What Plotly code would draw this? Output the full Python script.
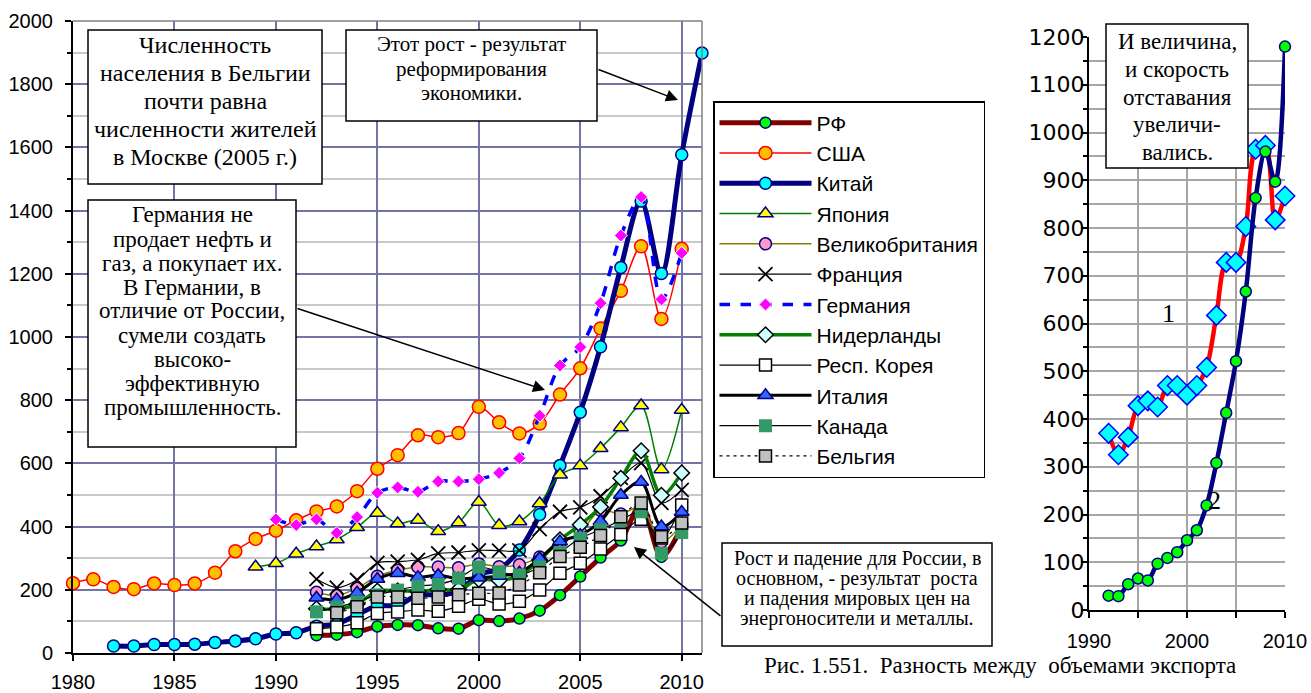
import plotly.graph_objects as go

# ---------------- data (left chart, bn USD export) ----------------
years_us = list(range(1980, 2011))
us = [221, 233, 209, 202, 220, 215, 220, 254, 322, 361, 387, 420, 448, 464, 512, 583,
      626, 689, 683, 696, 779, 730, 695, 726, 818, 901, 1027, 1146, 1287, 1057, 1279]
years_cn = list(range(1982, 2012))
cn = [22, 22, 27, 27, 28, 33, 38, 45, 60, 64, 85, 92, 121, 149, 151, 183, 184, 195,
      249, 266, 326, 438, 593, 762, 969, 1220, 1430, 1201, 1577, 1899]
years_jp = list(range(1989, 2011))
jp = [273, 284, 314, 337, 359, 398, 443, 410, 421, 385, 413, 478, 404, 416, 473, 564,
      593, 648, 714, 783, 581, 769]
years_de = list(range(1990, 2011))
de = [423, 405, 423, 380, 430, 507, 524, 510, 543, 543, 550, 570, 616, 751, 910, 968,
      1107, 1321, 1443, 1119, 1266]
years_92 = list(range(1992, 2011))
ru = [56, 58, 66, 84, 89, 88, 78, 77, 104, 101, 109, 134, 183, 242, 302, 356, 470, 304, 400]
uk = [192, 182, 205, 243, 262, 272, 272, 270, 282, 273, 279, 304, 346, 383, 452, 440, 462, 352, 407]
fr = [234, 207, 231, 285, 289, 295, 315, 318, 325, 324, 325, 392, 447, 461, 496, 554, 601, 475, 516]
nl = [140, 139, 155, 196, 197, 195, 201, 201, 233, 230, 244, 294, 358, 406, 462, 553, 640, 499, 570]
kr = [77, 82, 96, 125, 130, 136, 132, 148, 170, 155, 164, 199, 252, 284, 329, 375, 423, 364, 468]
it = [175, 169, 191, 234, 252, 240, 246, 235, 238, 244, 254, 299, 353, 373, 417, 500, 541, 400, 446]
ca = [130, 145, 162, 184, 199, 212, 217, 237, 272, 257, 247, 272, 318, 363, 390, 420, 447, 316, 381]
years_be = list(range(1993, 2011))
be = [127, 146, 177, 177, 173, 177, 184, 189, 190, 215, 254, 305, 335, 372, 431, 475, 368, 411]

# ---------------- data (right chart) ----------------
years_r = list(range(1992, 2011))
diff1 = [370, 325, 362, 428, 438, 425, 470, 470, 450, 470, 508, 617, 728, 728, 803, 965, 973, 817, 867]
diff2 = [30, 29, 54, 66, 62, 97, 109, 121, 146, 167, 219, 308, 413, 521, 667, 863, 960, 897, 1180]

SERIF = "Liberation Serif, Times New Roman, serif"
SANS = "Liberation Sans, Arial, sans-serif"

# body margin is removed by the post script, so the figure fills the page exactly
W, H = 1311, 693
def px(x):
    return x / W
def py(y):
    return 1 - y / H

fig = go.Figure()

def add(name, xs, ys, lcolor, lwidth, symbol, mcolor, mline, msize, dash="solid", mlw=1.5):
    fig.add_trace(go.Scatter(
        x=xs, y=ys, name=name, mode="lines+markers", legendgroup=name,
        line=dict(color=lcolor, width=lwidth, dash=dash, shape="spline", smoothing=0.9),
        marker=dict(symbol=symbol, color=mcolor, size=msize, line=dict(color=mline, width=mlw)),
        cliponaxis=False, xaxis="x", yaxis="y"))

add("РФ", years_92, ru, "#800000", 5, "circle", "#00ff00", "#000080", 11)
add("США", years_us, us, "#ff0000", 1.5, "circle", "#ffc000", "#ff0000", 13)
add("Китай", years_cn, cn, "#000080", 5, "circle", "#00ffff", "#000080", 12)
add("Япония", years_jp, jp, "#008000", 1.5, "triangle-up", "#ffff00", "#000080", 13)
add("Великобритания", years_92, uk, "#808000", 1.5, "circle", "#ff99cc", "#000080", 12)
add("Франция", years_92, fr, "#000000", 1.2, "x-thin", "#000000", "#000000", 14, mlw=1.8)
add("Германия", years_de, de, "#0000ff", 3.5, "diamond", "#ff00ff", "#ffffff", 10, dash="dash", mlw=1)
add("Нидерланды", years_92, nl, "#008000", 3.5, "diamond", "#ccffff", "#000000", 12)
add("Респ. Корея", years_92, kr, "#000000", 1.2, "square", "#ffffff", "#000000", 12)
add("Италия", years_92, it, "#000000", 3, "triangle-up", "#3366ff", "#000080", 13)
add("Канада", years_92, ca, "#000000", 1.2, "square", "#339966", "#339966", 13, mlw=0)
add("Бельгия", years_be, be, "#000000", 1.2, "square", "#c0c0c0", "#000000", 12, dash="3px,4px")

# right chart
fig.add_trace(go.Scatter(x=years_r, y=diff1, mode="lines+markers", showlegend=False,
                         line=dict(color="#ff0000", width=4.5, shape="spline", smoothing=0.9),
                         marker=dict(symbol="diamond", color="#00ffff", size=15,
                                     line=dict(color="#0000ff", width=1.5)),
                         cliponaxis=False, xaxis="x2", yaxis="y2"))
fig.add_trace(go.Scatter(x=years_r, y=diff2, mode="lines+markers", showlegend=False,
                         line=dict(color="#000080", width=4.5, shape="spline", smoothing=0.9),
                         marker=dict(symbol="circle", color="#00ff00", size=11,
                                     line=dict(color="#000080", width=1.5)),
                         cliponaxis=False, xaxis="x2", yaxis="y2"))

GRID_L = "#7373a6"
common = dict(zeroline=False, showline=True, linecolor="black", linewidth=2,
              ticks="outside", ticklen=6, tickcolor="black", tickwidth=1.5,
              automargin=False, fixedrange=True)
fig.update_layout(
    width=W, height=H, autosize=False,
    margin=dict(l=0, r=0, t=0, b=0, pad=0),
    paper_bgcolor="white", plot_bgcolor="white",
    font=dict(family=SANS, size=20, color="black"),
    xaxis=dict(domain=[px(73), px(702)], range=[1980, 2011], tickvals=list(range(1980, 2011, 5)),
               showgrid=True, gridcolor=GRID_L, gridwidth=1.5,
               tickfont=dict(family=SANS, size=20), ticklabelstandoff=4,
               anchor="y", **common),
    yaxis=dict(domain=[py(653), py(21)], range=[0, 2000], dtick=200,
               showgrid=True, gridcolor=GRID_L, gridwidth=1.5,
               tickfont=dict(family=SANS, size=20), ticklabelstandoff=8,
               minor=dict(dtick=100, showgrid=True, gridcolor="#c8c8c8", gridwidth=1.5,
                          ticks="outside", ticklen=4, tickcolor="black"),
               anchor="x", **common),
    xaxis2=dict(domain=[px(1089), px(1285)], range=[1990, 2010], dtick=10, tick0=1990,
                showgrid=True, gridcolor="#a6a6a6", gridwidth=1.5,
                tickfont=dict(family=SANS, size=20), ticklabelstandoff=6,
                minor=dict(dtick=5, showgrid=True, gridcolor="#a6a6a6", gridwidth=1.5,
                           ticks="outside", ticklen=6, tickcolor="black"),
                anchor="y2", **common),
    yaxis2=dict(domain=[py(610), py(37)], range=[0, 1200], dtick=100,
                showgrid=True, gridcolor="#a6a6a6", gridwidth=1.5,
                tickfont=dict(family="DejaVu Sans", size=22), ticklabelstandoff=-8,
                minor=dict(dtick=50, showgrid=True, gridcolor="#a6a6a6", gridwidth=1.5,
                           ticks="outside", ticklen=4, tickcolor="black"),
                anchor="x2", **common),
    legend=dict(x=px(713), y=py(101), xanchor="left", yanchor="top",
                bgcolor="white", bordercolor="black", borderwidth=1.5,
                font=dict(family=SANS, size=21), tracegroupgap=0, itemwidth=92),
    showlegend=True,
)

# plot borders (gray top/right) of left chart
fig.add_shape(type="line", xref="x domain", yref="y domain", x0=0, x1=1, y0=1, y1=1,
              line=dict(color="#808080", width=1.5))
fig.add_shape(type="line", xref="x domain", yref="y domain", x0=1, x1=1, y0=0, y1=1,
              line=dict(color="#808080", width=1.5))


def textbox(lines, x0, y0, x1, y1, size, first, step):
    fig.add_shape(type="rect", xref="paper", yref="paper",
                  x0=px(x0), x1=px(x1), y0=py(y1), y1=py(y0),
                  line=dict(color="black", width=1.5), fillcolor="white", layer="above")
    for i, t in enumerate(lines):
        fig.add_annotation(xref="paper", yref="paper", x=px((x0 + x1) / 2), y=py(first + i * step),
                           xanchor="center", yanchor="middle", text=t, showarrow=False,
                           font=dict(family=SERIF, size=size, color="black"))


def arrow(x0, y0, x1, y1):
    # tail (x0,y0) -> head (x1,y1), page pixel positions
    fig.add_annotation(xref="paper", yref="paper", axref="pixel", ayref="pixel",
                       x=px(x1), y=py(y1), ax=x0 - x1, ay=y0 - y1, text="",
                       showarrow=True, arrowhead=2, arrowsize=1.6, arrowwidth=1.5,
                       arrowcolor="black")


textbox(["Численность", "населения в Бельгии", "почти равна", "численности жителей",
         "в Москве (2005 г.)"], 88, 30, 322, 184, 24, 45, 28)
textbox(["Этот рост - результат", "реформирования", "экономики."], 346, 30, 597, 121, 21, 44, 24.5)
textbox(["Германия не", "продает нефть и", "газ, а покупает их.", "В Германии, в",
         "отличие от России,", "сумели создать", "высоко-", "эффективную",
         "промышленность."], 88, 200, 296, 447, 23, 215, 24)
textbox(["Рост и падение для России, в", "основном, - результат\u00a0 роста",
         "и падения мировых цен на", "энергоносители и металлы."], 722, 543, 992, 646, 20, 558, 20)
textbox(["И величина,", "и скорость", "отставания", "увеличи-", "вались."],
        1106, 24, 1248, 168, 23, 42, 27.6)

arrow(597, 69, 678, 100)
arrow(296, 308, 545, 390)
arrow(722, 617, 634, 547)

fig.add_annotation(xref="paper", yref="paper", x=px(1177), y=py(313), text="1", showarrow=False,
                   font=dict(family=SERIF, size=26, color="black"))
fig.add_annotation(xref="paper", yref="paper", x=px(1223), y=py(517), text="2", showarrow=False,
                   font=dict(family=SERIF, size=26, color="black"))
fig.add_annotation(xref="paper", yref="paper", x=px(762), y=py(680), xanchor="left",
                   text="Рис. 1.551.\u00a0 Разность между\u00a0 объемами экспорта", showarrow=False,
                   font=dict(family=SERIF, size=23, color="black"))

fig.write_html("out.html", config={"displayModeBar": False},
               post_script="document.body.style.margin='0';document.body.style.overflow='hidden';")
